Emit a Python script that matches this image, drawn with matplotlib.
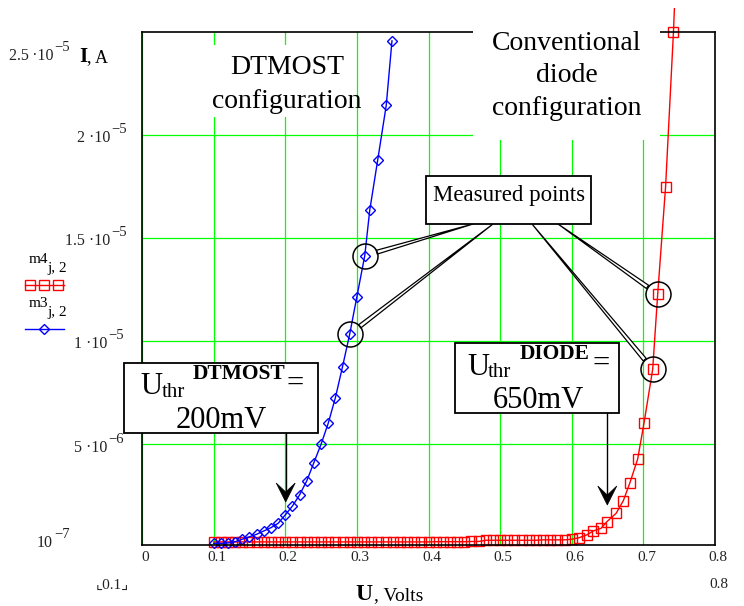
import numpy as np
import matplotlib
matplotlib.use('Agg')
import matplotlib.pyplot as plt
from matplotlib.patches import Rectangle, Polygon
from matplotlib.lines import Line2D
from matplotlib.transforms import Bbox, TransformedBbox, ScaledTranslation

plt.rcParams['font.family'] = ['Liberation Serif', 'DejaVu Sans']

# DTMOST configuration (m3): voltage (V) and current (uA)
u_dtmost = [0.10, 0.11, 0.12, 0.13, 0.14, 0.15, 0.16, 0.17, 0.18, 0.19,
            0.20, 0.21, 0.22, 0.23, 0.24, 0.25, 0.26, 0.27, 0.28, 0.29,
            0.30, 0.311, 0.318, 0.329, 0.341, 0.349]
i_dtmost = [0.18, 0.18, 0.20, 0.26, 0.38, 0.50, 0.62, 0.78, 0.94, 1.15,
            1.56, 1.99, 2.53, 3.21, 4.10, 4.99, 6.01, 7.25, 8.76, 10.34,
            12.15, 14.14, 16.36, 18.77, 21.44, 24.57]

# conventional diode configuration (m4)
u_diode = [0.10, 0.11, 0.12, 0.13, 0.14, 0.15, 0.16, 0.17, 0.18, 0.19,
           0.20, 0.21, 0.22, 0.23, 0.24, 0.25, 0.26, 0.27, 0.28, 0.29,
           0.30, 0.31, 0.32, 0.33, 0.34, 0.35, 0.36, 0.37, 0.38, 0.39,
           0.40, 0.41, 0.42, 0.43, 0.44, 0.45, 0.46, 0.47, 0.48, 0.49,
           0.50, 0.51, 0.52, 0.53, 0.54, 0.55, 0.56, 0.57, 0.58, 0.59,
           0.60, 0.610, 0.621, 0.630, 0.641, 0.649, 0.662, 0.672, 0.681,
           0.692, 0.701, 0.713, 0.720, 0.731, 0.742, 0.750]
i_diode = [0.25, 0.25, 0.25, 0.25, 0.25, 0.25, 0.25, 0.25, 0.25, 0.25,
           0.25, 0.25, 0.25, 0.25, 0.25, 0.25, 0.25, 0.25, 0.25, 0.25,
           0.25, 0.25, 0.25, 0.25, 0.25, 0.25, 0.25, 0.25, 0.25, 0.25,
           0.25, 0.26, 0.26, 0.26, 0.26, 0.26, 0.27, 0.27, 0.33, 0.33,
           0.33, 0.33, 0.33, 0.33, 0.33, 0.33, 0.35, 0.35, 0.35, 0.35,
           0.38, 0.45, 0.59, 0.78, 0.91, 1.23, 1.64, 2.25, 3.10,
           4.27, 6.04, 8.63, 12.28, 17.49, 25.0, 31.9]

# which points are circled as "Measured points"
circ_dtmost = [21, 19]
circ_diode = [62, 61]

x_ticks = [0, 0.1, 0.2, 0.3, 0.4, 0.5, 0.6, 0.7, 0.8]
x_tick_labels = ['0', '0.1', '0.2', '0.3', '0.4', '0.5', '0.6', '0.7', '0.8']
y_grid = [5e-6, 1e-5, 1.5e-5, 2e-5]

W, H = 744, 606
fig = plt.figure(figsize=(W / 100, H / 100), dpi=100)


def P(x, y):
    # pixel (from top-left) -> figure fraction
    return (x / W, 1 - y / H)


def txt(x, y, s, **kw):
    kw.setdefault('va', 'baseline')
    kw.setdefault('zorder', 6)
    return fig.text(x / W, 1 - y / H, s, **kw)


ax = fig.add_axes([142 / W, 1 - 545 / H, (715 - 142) / W, (545 - 32) / H])
ax.set_xlim(0, 0.8)
ax.set_ylim(1e-7, 2.5e-5)
ax.set_xticks(x_ticks, labels=x_tick_labels)
ax.set_yticks(y_grid)
ax.grid(True, color='#00ff00', lw=0.9)
ax.tick_params(length=0, labelleft=False, labelsize=11, pad=4)
for lab in ax.get_xticklabels():
    lab.set_transform(lab.get_transform() + ScaledTranslation(0.03, 0, fig.dpi_scale_trans))
    lab.set_color('#222222')
for sp in ax.spines.values():
    sp.set_linewidth(1.2)

uA = 1e-6
clip = TransformedBbox(Bbox.from_extents(0, 0, 1, 1 - 8 / H), fig.transFigure)
ld, = ax.plot(u_diode, np.array(i_diode) * uA, color='red', lw=1.0, marker='s', ms=6.8,
              mfc='none', mec='red', mew=1.0)
ld.set_clip_box(clip)
lt, = ax.plot(u_dtmost, np.array(i_dtmost) * uA, color='blue', lw=1.0, marker='D', ms=5,
              mfc='none', mec='blue', mew=1.0)
lt.set_clip_box(clip)

# circles around measured points
cx = [u_dtmost[k] for k in circ_dtmost] + [u_diode[k] for k in circ_diode]
cy = [i_dtmost[k] * uA for k in circ_dtmost] + [i_diode[k] * uA for k in circ_diode]
ax.plot(cx, cy, 'o', ms=18, mfc='none', mec='black', mew=1.1, zorder=4)

# hollow wedges from the "Measured points" box to the circles
anchors = [473, 493, 558, 532]
for bx, x, y in zip(anchors, cx, cy):
    ax.annotate('', xy=P(bx, 224), xycoords='figure fraction', xytext=(x, y),
                textcoords='data',
                arrowprops=dict(arrowstyle='wedge,tail_width=0.28,shrink_factor=0.5',
                                fc='white', ec='black', lw=0.9, shrinkA=9, shrinkB=0,
                                mutation_scale=10))


def box(x0, y0, x1, y1, ec='black'):
    fig.add_artist(Rectangle(P(x0, y1), (x1 - x0) / W, (y1 - y0) / H,
                             transform=fig.transFigure, fc='white', ec=ec,
                             lw=1.3 if ec != 'none' else 0, zorder=5))


def arrow_down(x, y0, y1):
    fig.add_artist(Line2D([x / W, x / W], [1 - y0 / H, 1 - (y1 - 10) / H],
                          transform=fig.transFigure, color='black', lw=1.0, zorder=5))
    head = [P(x, y1), P(x - 9.5, y1 - 19), P(x, y1 - 10), P(x + 9.5, y1 - 19)]
    fig.add_artist(Polygon(head, closed=True, transform=fig.transFigure,
                           fc='black', ec='black', lw=0.5, zorder=5))


# white label areas
box(205, 45, 350, 117, ec='none')
txt(287, 74, 'DTMOST', ha='center', fontsize=20)
txt(287, 108, 'configuration', ha='center', fontsize=20)
box(473, 0, 660, 140, ec='none')
txt(567, 50, 'Conventional', ha='center', fontsize=20)
txt(567, 82, 'diode', ha='center', fontsize=20)
txt(567, 115, 'configuration', ha='center', fontsize=20)

# Measured points
box(426, 176, 591, 224)
txt(509, 201, 'Measured points', ha='center', fontsize=16.5)

# threshold boxes
box(124, 363, 318, 433)
txt(140, 394, 'U', fontsize=22)
txt(162, 397, 'thr', fontsize=15)
txt(193, 379, 'DTMOST', fontsize=15.5, weight='bold')
txt(287, 392, '=', fontsize=22)
txt(221, 428, '200mV', ha='center', fontsize=22)
arrow_down(285.7, 433, 502)

box(455, 343, 619, 413)
txt(467, 375, 'U', fontsize=22)
txt(488, 377, 'thr', fontsize=15)
txt(520, 359, 'DIODE', fontsize=15.5, weight='bold')
txt(592, 372, '=', fontsize=22)
txt(538, 408, '650mV', ha='center', fontsize=22)
arrow_down(607.3, 413, 505)

# y axis labels (Mathcad style)
for xe, yb, base, ex in [(53, 60, '2.5\u2009\u00b710', '\u22125'),
                         (110, 142, '2 \u00b710', '\u22125'),
                         (110, 245, '1.5 \u00b710', '\u22125'),
                         (107, 348, '1 \u00b710', '\u22125'),
                         (107, 452, '5 \u00b710', '\u22126'),
                         (53, 547, '10', '\u22127')]:
    txt(xe, yb, base, ha='right', fontsize=11.5, color='#222222')
    txt(xe + 1, yb - 9, ex, ha='left', fontsize=10.5, color='#222222')
txt(87, 62, 'I', ha='right', fontsize=15, weight='bold')
txt(87, 62, ', A', ha='left', fontsize=13)

txt(373, 600, 'U', ha='right', fontsize=17, weight='bold')
txt(374, 600, ', Volts', ha='left', fontsize=14)
txt(112, 589, '\u231e0.1\u231f', ha='center', fontsize=11, color='#222222')
txt(719, 588, '0.8', ha='center', fontsize=11, color='#222222')

# legend (Mathcad trace names)
txt(38, 263, 'm4', ha='center', fontsize=11)
txt(57, 272, 'j, 2', ha='center', fontsize=11)
fig.add_artist(Line2D([25 / W, 64 / W], [1 - 285 / H] * 2, transform=fig.transFigure,
                      color='red', lw=1.0))
fig.add_artist(Line2D([30 / W, 44 / W, 58 / W], [1 - 285 / H] * 3, transform=fig.transFigure,
                      ls='none', marker='s', ms=7, mfc='none', mec='red', mew=1.0))
txt(38, 307, 'm3', ha='center', fontsize=11)
txt(57, 316, 'j, 2', ha='center', fontsize=11)
fig.add_artist(Line2D([25 / W, 64 / W], [1 - 329 / H] * 2, transform=fig.transFigure,
                      color='blue', lw=1.0))
fig.add_artist(Line2D([44 / W], [1 - 329 / H], transform=fig.transFigure,
                      ls='none', marker='D', ms=5.5, mfc='none', mec='blue', mew=1.0))

fig.savefig('out.png', dpi=100)
